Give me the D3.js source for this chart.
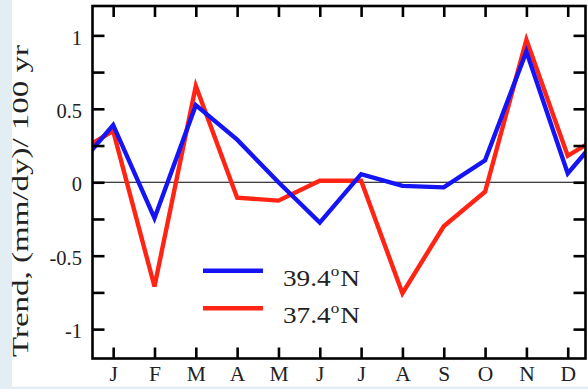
<!DOCTYPE html>
<html>
<head>
<meta charset="utf-8">
<script src="https://cdn.jsdelivr.net/npm/d3@7"></script>
<style>
    body { margin: 0; background: #e2edf4; }
    svg { display: block; }
</style>
</head>
<body>
<svg id="chart" width="588" height="389"></svg>
<script>
// monthly trends, Jan..Dec
const months = ["J", "F", "M", "A", "M", "J", "J", "A", "S", "O", "N", "D"];
const north394 = [0.39, -0.245, 0.525, 0.29, 0.0, -0.275, 0.055, -0.025, -0.035, 0.15, 0.89, 0.06];
const north374 = [0.35, -0.71, 0.655, -0.105, -0.125, 0.01, 0.01, -0.755, -0.30, -0.065, 0.97, 0.18];
const yTicks = [-1, -0.75, -0.5, -0.25, 0, 0.25, 0.5, 0.75, 1];
const legendLabels = ["39.4", "37.4"];

const svg = d3.select('#chart');

const WIDTH = 588;
const HEIGHT = 389;
const LEFT = 92.5, RIGHT = 585.5, TOP = 6, BOTTOM = 358.5;
const FONT = '"Liberation Serif", "Times New Roman", serif';
const BLUE = '#1414f5';
const RED = '#ff2414';

// white page with the light blue margin on the left and bottom
svg.append('rect')
    .attr('x', 12).attr('y', 0)
    .attr('width', WIDTH - 12).attr('height', 386.5)
    .attr('fill', '#fff');

const x = d3.scaleLinear().domain([0.5, 12.43]).range([LEFT, RIGHT]);
const y = d3.scaleLinear().domain([-1.2, 1.2]).range([BOTTOM, TOP]);

svg.append('clipPath').attr('id', 'plot-clip')
    .append('rect')
    .attr('x', LEFT).attr('y', TOP)
    .attr('width', RIGHT - LEFT).attr('height', BOTTOM - TOP);

// zero line
svg.append('line')
    .attr('x1', LEFT).attr('x2', RIGHT)
    .attr('y1', y(0)).attr('y2', y(0))
    .attr('stroke', '#000').attr('stroke-width', 1);

// the cycle wraps: Dec before Jan and Jan after Dec
function wrapped(values) {
    const pts = values.map((v, i) => [i + 1, v]);
    return [[0, values[11]]].concat(pts, [[13, values[0]]]);
}

const line = d3.line().x(d => x(d[0])).y(d => y(d[1]));

const series = [
    {values: north374, color: RED},
    {values: north394, color: BLUE},
];

svg.append('g').attr('clip-path', 'url(#plot-clip)')
    .selectAll('path')
    .data(series)
    .join('path')
    .attr('d', d => line(wrapped(d.values)))
    .attr('fill', 'none')
    .attr('stroke', d => d.color)
    .attr('stroke-width', 4.4)
    .attr('stroke-linejoin', 'miter');

// axes, ticks pointing inward
function styleAxis(g) {
    g.attr('font-family', FONT);
    g.select('.domain').remove();
    g.selectAll('.tick line').attr('stroke', '#000').attr('stroke-width', 2.6);
    g.selectAll('.tick text')
        .attr('font-family', FONT)
        .attr('fill', '#222');
}

svg.append('g')
    .attr('transform', `translate(${LEFT},0)`)
    .call(d3.axisLeft(y).tickValues(yTicks).tickSizeInner(-12).tickSizeOuter(0).tickPadding(10.5)
        .tickFormat(d => (d * 2) % 1 === 0 ? String(d) : ''))
    .call(styleAxis)
    .call(g => g.selectAll('.tick text').attr('font-size', 20.5).attr('dy', '0.42em'));

svg.append('g')
    .attr('transform', `translate(${RIGHT},0)`)
    .call(d3.axisRight(y).tickValues(yTicks).tickSizeInner(-12).tickSizeOuter(0).tickFormat(''))
    .call(styleAxis);

svg.append('g')
    .attr('transform', `translate(0,${BOTTOM})`)
    .call(d3.axisBottom(x).tickValues(d3.range(1, 13)).tickSizeInner(-11).tickSizeOuter(0).tickPadding(8)
        .tickFormat(i => months[i - 1]))
    .call(styleAxis)
    .call(g => g.selectAll('.tick text').attr('font-size', 21.5).attr('dy', '0.66em'));

svg.append('g')
    .attr('transform', `translate(0,${TOP})`)
    .call(d3.axisTop(x).tickValues(d3.range(1, 13)).tickSizeInner(-11).tickSizeOuter(0).tickFormat(''))
    .call(styleAxis);

// frame
svg.append('rect')
    .attr('x', LEFT).attr('y', TOP)
    .attr('width', RIGHT - LEFT).attr('height', BOTTOM - TOP)
    .attr('fill', 'none')
    .attr('stroke', '#000')
    .attr('stroke-width', 2.6);

// y axis title
svg.append('text')
    .text('Trend, (mm/dy)/ 100 yr')
    .attr('transform', 'translate(28,201) rotate(-90)')
    .attr('text-anchor', 'middle')
    .attr('font-family', FONT)
    .attr('font-size', 23)
    .attr('textLength', 312)
    .attr('lengthAdjust', 'spacingAndGlyphs')
    .attr('fill', '#222');

// legend
const legend = svg.append('g').selectAll('g')
    .data([BLUE, RED])
    .join('g')
    .attr('transform', (d, i) => `translate(203,${270.7 + i * 37.5})`);

legend.append('line')
    .attr('x1', 0).attr('x2', 60)
    .attr('stroke', d => d)
    .attr('stroke-width', 4.4);

const legendText = legend.append('text')
    .attr('x', 80).attr('y', 15)
    .attr('font-family', FONT)
    .attr('font-size', 24)
    .attr('textLength', 77)
    .attr('lengthAdjust', 'spacingAndGlyphs')
    .attr('fill', '#222');

legendText.append('tspan').text((d, i) => legendLabels[i]);
legendText.append('tspan').text('o').attr('font-size', 15).attr('dy', -10);
legendText.append('tspan').text('N').attr('dy', 10).attr('dx', 1);
</script>
</body>
</html>
